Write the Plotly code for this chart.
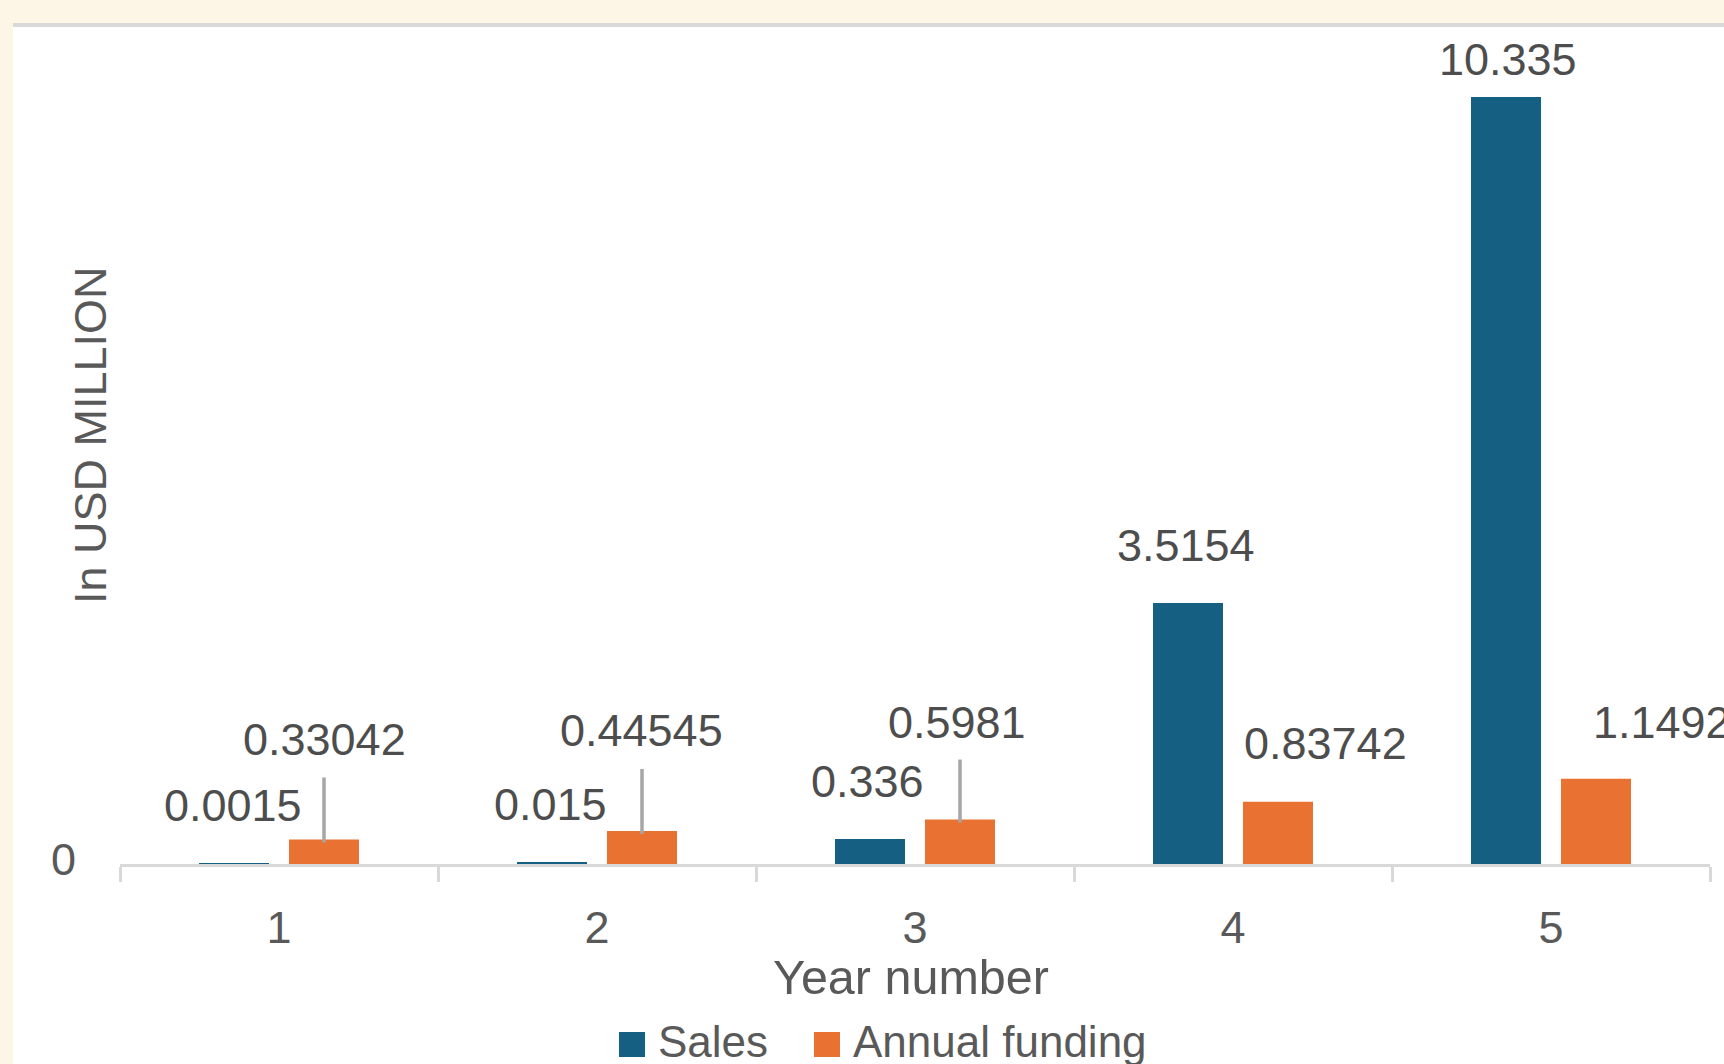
import plotly.graph_objects as go

# ---- data ----
years = ["1", "2", "3", "4", "5"]
sales = [0.0015, 0.015, 0.336, 3.5154, 10.335]
funding = [0.33042, 0.44545, 0.5981, 0.83742, 1.1492]
sales_labels = ["0.0015", "0.015", "0.336", "3.5154", "10.335"]
funding_labels = ["0.33042", "0.44545", "0.5981", "0.83742", "1.1492"]
series_names = ["Sales", "Annual funding"]
x_title = "Year number"
y_title = "In USD MILLION"

# ---- layout constants ----
W, H = 1724, 1064
ML, MR, MT, MB = 120, 14, 27, 200
PW, PH = W - ML - MR, H - MT - MB
Y_MAX = 11.278
BARGAP, GROUPGAP = 0.434, 0.222
OFF = (1 - BARGAP) / 4

C_SALES = "#156082"
C_FUND = "#E97132"
AXIS_GRAY = "#D9D9D9"
TXT = "#595959"
LBL = "#4D4D4D"
FONT = "Liberation Sans, Arial, sans-serif"
FS = 45


def px_x(px):
    return (px - ML) / PW


def px_y(py):
    return (H - MB - py) / PH


# label pixel shifts (dx, dy) relative to bar top centre
sales_shift = [(-1, 58), (-2, 58), (-3, 58), (-2, 58), (2, 37)]
fund_shift = [(0, 100), (-1, 100), (-3, 97), (47, 58), (66, 56)]
leader_top = [62, 62, 60, None, None]

fig = go.Figure()
fig.add_trace(go.Bar(x=years, y=sales, name=series_names[0], marker_color=C_SALES,
                     marker_line_width=0, showlegend=False))
fig.add_trace(go.Bar(x=years, y=funding, name=series_names[1], marker_color=C_FUND,
                     marker_line_width=0, showlegend=False))

shapes = []
# white chart area + top gray border
shapes.append(dict(type="rect", xref="paper", yref="paper", layer="below",
                   x0=px_x(13), x1=px_x(W + 10), y0=px_y(H + 10), y1=px_y(27),
                   fillcolor="white", line_width=0))
shapes.append(dict(type="rect", xref="paper", yref="paper", layer="below",
                   x0=px_x(13), x1=px_x(W + 10), y0=px_y(27), y1=px_y(23),
                   fillcolor=AXIS_GRAY, line_width=0))

annotations = []
for i, (v, t, (dx, dy)) in enumerate(zip(sales, sales_labels, sales_shift)):
    annotations.append(dict(x=i - OFF, y=v, xref="x", yref="y", text=t, showarrow=False,
                            xshift=dx, yshift=dy, xanchor="center", yanchor="middle",
                            font=dict(size=FS, color=LBL, family=FONT)))
for i, (v, t, (dx, dy)) in enumerate(zip(funding, funding_labels, fund_shift)):
    annotations.append(dict(x=i + OFF, y=v, xref="x", yref="y", text=t, showarrow=False,
                            xshift=dx, yshift=dy, xanchor="center", yanchor="middle",
                            font=dict(size=FS, color=LBL, family=FONT)))
    if leader_top[i] is not None:
        shapes.append(dict(type="line", xref="x", yref="y", ysizemode="pixel",
                           yanchor=v, x0=i + OFF, x1=i + OFF, y0=-3, y1=leader_top[i],
                           line=dict(color="#A6A6A6", width=3.5)))

# axis titles
annotations.append(dict(x=px_x(911), y=px_y(977), xref="paper", yref="paper", text=x_title,
                        showarrow=False, xanchor="center", yanchor="middle",
                        font=dict(size=48.5, color=TXT, family=FONT)))
annotations.append(dict(x=px_x(90), y=px_y(435), xref="paper", yref="paper", text=y_title,
                        showarrow=False, xanchor="center", yanchor="middle", textangle=-90,
                        font=dict(size=FS, color=TXT, family=FONT)))

# manual legend
leg = [(C_SALES, series_names[0], 619, 656), (C_FUND, series_names[1], 814, 851)]
for col, name, sx, tx in leg:
    shapes.append(dict(type="rect", xref="paper", yref="paper",
                       x0=px_x(sx), x1=px_x(sx + 26), y0=px_y(1057), y1=px_y(1032),
                       fillcolor=col, line_width=0))
    annotations.append(dict(x=px_x(tx), y=px_y(1041), xref="paper", yref="paper", text=name,
                            showarrow=False, xanchor="left", yanchor="middle",
                            font=dict(size=44, color=TXT, family=FONT)))

fig.update_layout(
    width=W, height=H,
    margin=dict(l=ML, r=MR, t=MT, b=MB, pad=0, autoexpand=False),
    paper_bgcolor="#FDF5E6", plot_bgcolor="white",
    barmode="group", bargap=BARGAP, bargroupgap=GROUPGAP,
    shapes=shapes, annotations=annotations, showlegend=False,
    font=dict(family=FONT, color=TXT, size=FS),
    xaxis=dict(type="category", categoryorder="array", categoryarray=years,
               range=[-0.5, len(years) - 0.5], autorange=False,
               tickson="boundaries", ticks="outside", ticklen=15, tickwidth=3,
               tickcolor=AXIS_GRAY, showline=True, linecolor=AXIS_GRAY, linewidth=3,
               showgrid=False, zeroline=False, ticklabelstandoff=22, automargin=False,
               tickfont=dict(size=FS, color=TXT, family=FONT), fixedrange=True),
    yaxis=dict(range=[0, Y_MAX], autorange=False, showgrid=False, zeroline=False,
               showline=False, tickvals=[0], ticktext=["0"], ticks="", ticklabelstandoff=43,
               ticklabelshift=-5, automargin=False,
               tickfont=dict(size=FS, color=TXT, family=FONT), fixedrange=True),
)

fig.write_html(
    "out.html",
    config={"displayModeBar": False},
    post_script="document.body.style.margin='0';document.body.style.overflow='hidden';",
)
